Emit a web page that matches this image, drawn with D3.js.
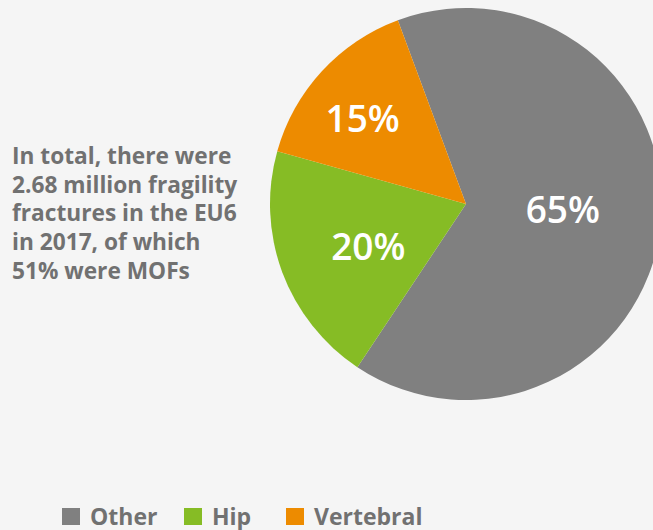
<!DOCTYPE html>
<html>
<head>
<meta charset="utf-8">
<script src="https://cdn.jsdelivr.net/npm/d3@7"></script>
<style>
  body { margin: 0; background: #f5f5f5; }
  svg { display: block; font-family: "Open Sans", sans-serif; }
</style>
</head>
<body>
<div id="chart"></div>
<script>
const categories = ["Other", "Hip", "Vertebral"];
const shares = [65, 20, 15];
const colors = ["#808080", "#86bc25", "#ed8b00"];
const noteLines = [
    "In total, there were",
    "2.68 million fragility",
    "fractures in the EU6",
    "in 2017, of which",
    "51% were MOFs"
];

const width = 653, height = 530;
const cx = 466, cy = 204, radius = 196;
const startDeg = -20.35;
// how far from the centre each percentage label sits (fraction of radius)
const labelRadius = [0.495, 0.544, 0.682];
const labelShift = -3.3 * Math.PI / 180;

const svg = d3.select("#chart")
    .append("svg")
    .attr("width", width)
    .attr("height", height);

svg.append("rect")
    .attr("width", width)
    .attr("height", height)
    .attr("fill", "#f5f5f5");

const start = startDeg * Math.PI / 180;
const pie = d3.pie()
    .sort(null)
    .startAngle(start)
    .endAngle(start + 2 * Math.PI);
const arcs = pie(shares);
const arc = d3.arc().innerRadius(0).outerRadius(radius);

const g = svg.append("g")
    .attr("transform", `translate(${cx}, ${cy})`);

g.selectAll("path")
    .data(arcs)
    .join("path")
    .attr("d", arc)
    .attr("fill", (d, i) => colors[i]);

g.selectAll("text.pct")
    .data(arcs)
    .join("text")
    .attr("class", "pct")
    .attr("transform", (d, i) => {
        let r = radius * labelRadius[i];
        let a = (d.startAngle + d.endAngle) / 2 + labelShift;
        return `translate(${r * Math.sin(a)}, ${-r * Math.cos(a)})`;
    })
    .attr("text-anchor", "middle")
    .attr("dy", "0.357em")
    .attr("fill", "#ffffff")
    .attr("font-size", 37)
    .attr("font-weight", 600)
    .text(d => d.data + "%");

// note on the left
svg.append("text")
    .attr("x", 12)
    .attr("y", 164)
    .attr("fill", "#717171")
    .attr("font-size", 22.7)
    .attr("font-weight", 700)
    .selectAll("tspan")
    .data(noteLines)
    .join("tspan")
    .attr("x", 12)
    .attr("dy", (d, i) => i ? 28.7 : 0)
    .text(d => d);

// legend
const legendX = [62, 184, 286];
const legend = svg.append("g");
const item = legend.selectAll("g")
    .data(categories)
    .join("g")
    .attr("transform", (d, i) => `translate(${legendX[i]}, 508)`);
item.append("rect")
    .attr("width", 18)
    .attr("height", 17)
    .attr("fill", (d, i) => colors[i]);
item.append("text")
    .attr("x", 28)
    .attr("y", 17)
    .attr("fill", "#717171")
    .attr("font-size", 23)
    .attr("font-weight", 700)
    .text(d => d);
</script>
</body>
</html>
